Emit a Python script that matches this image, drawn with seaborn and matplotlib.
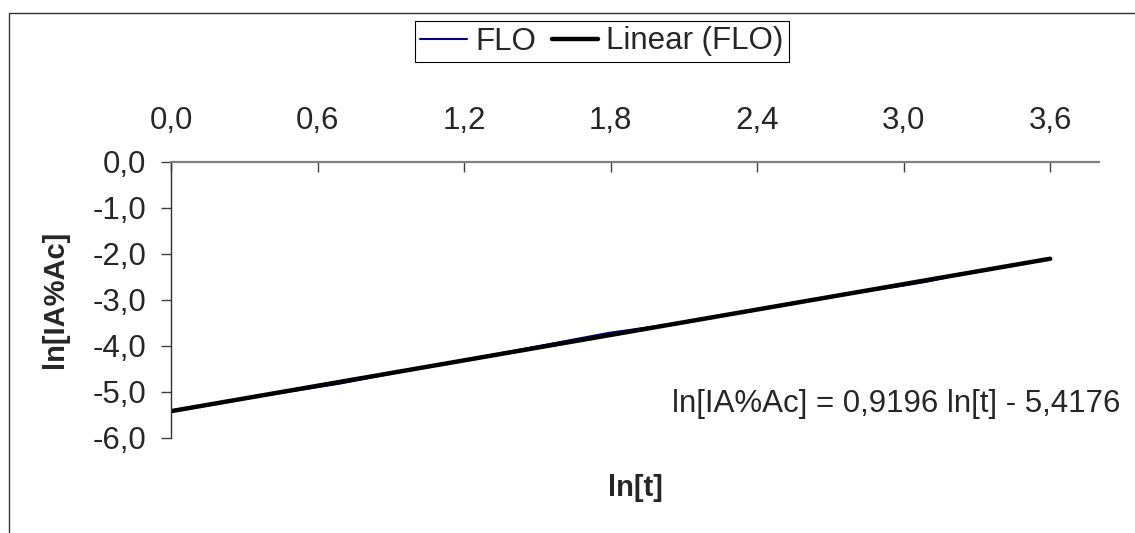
import numpy as np
import pandas as pd
import matplotlib
matplotlib.use("Agg")
import matplotlib.pyplot as plt
import seaborn as sns
from matplotlib.lines import Line2D
from matplotlib.ticker import FuncFormatter

# FLO series (ln[t] vs ln[IA%Ac])
ln_t = [0.00, 0.69, 1.10, 1.39, 1.61, 1.79, 1.95, 2.08, 2.20, 2.30,
        2.48, 2.64, 2.77, 2.89, 3.00, 3.09, 3.18]
ln_ia = [-5.40, -4.82, -4.40, -4.12, -3.90, -3.72, -3.60, -3.50, -3.40, -3.31,
         -3.15, -2.99, -2.88, -2.78, -2.69, -2.61, -2.51]

# Excel linear trendline
slope = 0.9196
intercept = -5.4176
trend_x = [0.0, 3.6]

x_ticks = [0.0, 0.6, 1.2, 1.8, 2.4, 3.0, 3.6]
y_ticks = [0.0, -1.0, -2.0, -3.0, -4.0, -5.0, -6.0]
equation = "ln[IA%Ac] = 0,9196 ln[t] - 5,4176"

flo = pd.DataFrame({"ln_t": ln_t, "ln_ia": ln_ia})
trend = pd.DataFrame({"ln_t": trend_x})
trend["ln_ia"] = slope * trend["ln_t"] + intercept

sns.set_style("white")
plt.rcParams["font.family"] = ["Liberation Sans", "DejaVu Sans"]

fig = plt.figure(figsize=(11.35, 5.33), dpi=100)
ax = fig.add_axes([171 / 1135, 1 - 438 / 533, (1099 - 171) / 1135, (438 - 161.7) / 533])

sns.lineplot(data=flo, x="ln_t", y="ln_ia", ax=ax, color="#000080", linewidth=1.5, label="FLO")
sns.lineplot(data=trend, x="ln_t", y="ln_ia", ax=ax, color="black", linewidth=3.2, label="Linear (FLO)")

ax.set_xlim(0, 3.8)
ax.set_ylim(-6, 0)
ax.set_xticks(x_ticks)
ax.set_yticks(y_ticks)
comma = FuncFormatter(lambda v, p: f"{v:.1f}".replace(".", ","))
ax.xaxis.set_major_formatter(comma)
ax.yaxis.set_major_formatter(comma)

ax.xaxis.set_ticks_position("top")
ax.xaxis.set_label_position("top")
ax.tick_params(axis="x", direction="in", length=7, width=1, color="#404040",
               labelsize=22.5, pad=18.5, top=True, bottom=False)
ax.tick_params(axis="y", direction="out", length=7, width=1, color="#404040",
               labelsize=22.5, pad=11, left=True)

for side in ["bottom", "right"]:
    ax.spines[side].set_visible(False)
ax.spines["top"].set_color("#808080")
ax.spines["top"].set_linewidth(1.6)
ax.spines["left"].set_color("#303030")
ax.spines["left"].set_linewidth(1.0)

ax.set_xlabel("")
ax.set_ylabel("")
ax.text(0.5, -0.181, "ln[t]", transform=ax.transAxes, ha="center", va="center",
        fontsize=21, fontweight="bold")
ax.text(-0.125, 0.5, "ln[IA%Ac]", transform=ax.transAxes, ha="center", va="center",
        rotation=90, fontsize=21, fontweight="bold")

ax.text(2.05, -5.27, equation, ha="left", va="center", fontsize=22.5)

leg = ax.legend(loc="center", bbox_to_anchor=(602 / 1135, 1 - 41.5 / 533),
                bbox_transform=fig.transFigure, ncol=2, frameon=True, fancybox=False,
                edgecolor="black", framealpha=1, fontsize=22.5, borderpad=0.18,
                handlelength=1.5, handletextpad=0.25, columnspacing=0.5, borderaxespad=0)
leg.get_frame().set_linewidth(0.8)

# chart area border (left and top edges visible in the crop)
fig.add_artist(Line2D([9 / 1135, 9 / 1135], [0, 1 - 13 / 533], transform=fig.transFigure,
                      color="#333333", linewidth=1))
fig.add_artist(Line2D([9 / 1135, 1], [1 - 13 / 533, 1 - 13 / 533], transform=fig.transFigure,
                      color="#333333", linewidth=1))

fig.savefig("out.png", dpi=100)
